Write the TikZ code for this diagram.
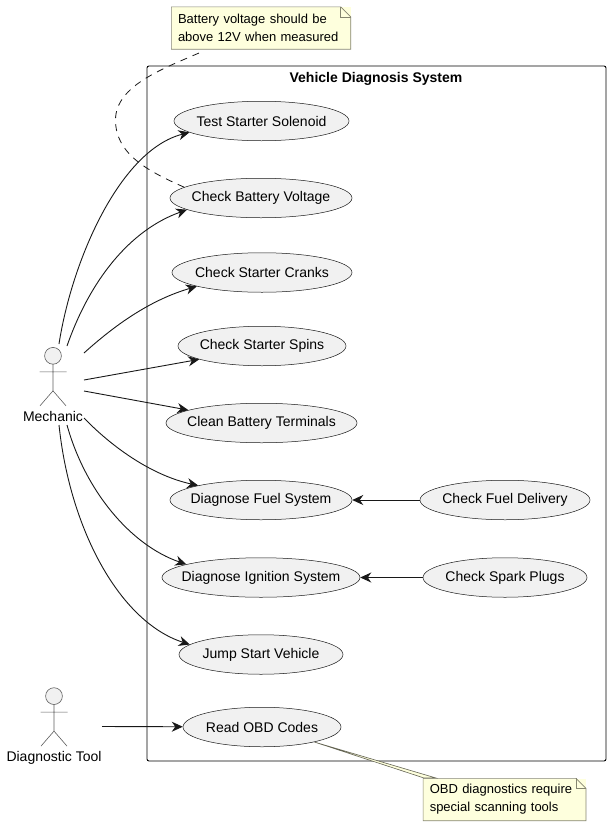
\documentclass[tikz,border=0pt]{standalone}
\usepackage{fontspec}
\setmainfont{Liberation Sans}
\usetikzlibrary{arrows.meta,calc,shapes.geometric}
\definecolor{usefill}{HTML}{F1F1F1}
\definecolor{useline}{HTML}{181818}
\definecolor{notefill}{HTML}{FEFFDD}
\definecolor{noteline}{HTML}{858570}
\newcommand{\casetext}[1]{\makebox[0pt]{\raisebox{-1pt}{#1}}}
\tikzset{
  usecase/.style={ellipse,draw=useline,fill=usefill,line width=0.5pt,minimum height=39.5pt,inner sep=0pt,font=\fontsize{14}{16}\selectfont},
  assoc/.style={-{Stealth[length=11pt,width=10pt,inset=3.5pt]},useline,line width=0.9pt},
  notebox/.style={fill=notefill,inner xsep=6.5pt,inner ysep=0pt,minimum height=42pt,align=left,font=\fontsize{13}{18}\selectfont},
  noteedge/.style={draw=noteline,line width=0.6pt},
  actorlabel/.style={inner sep=0pt,font=\fontsize{14}{16}\selectfont},
  actorfig/.pic={
    \draw[draw=useline!70,fill=usefill,line width=0.6pt] (0,-8.4) circle (8.4);
    \draw[useline!70,line width=0.6pt] (0,0) -- (0,26.6) (-13.5,7.6) -- (13.5,7.6) (-13,41.6) -- (0,26.6) -- (13,41.6);
  }
}
\begin{document}
\begin{tikzpicture}[x=1pt,y=-1pt]
  \useasboundingbox (0,0) rectangle (610,825);
  \node[draw=black,line width=0.9pt,rounded corners=2pt,minimum width=459pt,minimum height=695pt,inner sep=0pt] (system) at (376.5,413.5) {};
  \node[inner sep=0pt,font=\bfseries\fontsize{14}{16}\selectfont] (systemtitle) at (376,79) {Vehicle Diagnosis System};

  \node[usecase,minimum width=175pt] (solenoid) at (261.5,121) {\casetext{Test Starter Solenoid}};
  \node[usecase,minimum width=182pt] (battery) at (261,198) {\casetext{Check Battery Voltage}};
  \node[usecase,minimum width=180pt] (cranks) at (262,272.5) {\casetext{Check Starter Cranks}};
  \node[usecase,minimum width=168pt] (spins) at (262,346) {\casetext{Check Starter Spins}};
  \node[usecase,minimum width=191pt] (terminals) at (261.5,423) {\casetext{Clean Battery Terminals}};
  \node[usecase,minimum width=182pt] (fuel) at (261,500) {\casetext{Diagnose Fuel System}};
  \node[usecase,minimum width=198pt] (ignition) at (261,577.5) {\casetext{Diagnose Ignition System}};
  \node[usecase,minimum width=164pt] (jump) at (261,654.5) {\casetext{Jump Start Vehicle}};
  \node[usecase,minimum width=158pt] (obd) at (262,727) {\casetext{Read OBD Codes}};
  \node[usecase,minimum width=170pt] (delivery) at (505,500) {\casetext{Check Fuel Delivery}};
  \node[usecase,minimum width=164pt] (plugs) at (505,577.5) {\casetext{Check Spark Plugs}};

  \pic at (53,364.2) {actorfig};
  \node[actorlabel] (mechanic) at (53,416.5) {Mechanic};
  \pic at (54,704.5) {actorfig};
  \node[actorlabel] (tool) at (54,758) {Diagnostic Tool};

  \coordinate (mecha) at (59,344);
  \coordinate (mechb) at (67,346);
  \coordinate (mechc) at (84,353);
  \coordinate (mechd) at (84,380);
  \coordinate (meche) at (84,391);
  \coordinate (mechf) at (84,418);
  \coordinate (mechg) at (67,425);
  \coordinate (mechh) at (59,425);
  \coordinate (toolr) at (102,726.5);

  \draw[assoc] (mecha) .. controls (72,260) and (120,150) .. (solenoid.189);
  \draw[assoc] (mechb) .. controls (90,280) and (130,230) .. (battery.189);
  \draw[assoc] (mechc) .. controls (115,325) and (150,300) .. (cranks.192);
  \draw[assoc] (mechd) -- (spins.192);
  \draw[assoc] (meche) -- (terminals.170);
  \draw[assoc] (mechf) .. controls (110,445) and (150,475) .. (fuel.167.3);
  \draw[assoc] (mechg) .. controls (85,490) and (130,545) .. (ignition.170);
  \draw[assoc] (mechh) .. controls (70,530) and (120,622) .. (jump.172.5);
  \draw[assoc] (toolr) -- (obd);
  \draw[assoc] (delivery) -- (fuel);
  \draw[assoc] (plugs) -- (ignition);

  \node[notebox,text width=166pt] (voltnote) at (261,28) {Battery voltage should be\\above 12V when measured};
  \node[notebox,text width=149.5pt] (scannote) at (504.5,799.5) {OBD diagnostics require\\special scanning tools};

  \draw[noteedge] (voltnote.north west) -- ($(voltnote.north east)+(-10,0)$) -- ($(voltnote.north east)+(0,10)$) -- (voltnote.south east) -- (voltnote.south west) -- cycle;
  \draw[noteedge] ($(voltnote.north east)+(-10,0)$) -- ($(voltnote.north east)+(-10,10)$) -- ($(voltnote.north east)+(0,10)$);
  \draw[noteedge] (scannote.north west) -- ($(scannote.north east)+(-10,0)$) -- ($(scannote.north east)+(0,10)$) -- (scannote.south east) -- (scannote.south west) -- cycle;
  \draw[noteedge] ($(scannote.north east)+(-10,0)$) -- ($(scannote.north east)+(-10,10)$) -- ($(scannote.north east)+(0,10)$);

  \coordinate (voltbend) at (115.5,120);
  \coordinate (voltfoot) at ($(voltnote.south)+(-59,2.5)$);
  \draw[useline,line width=0.8pt,dash pattern=on 7pt off 6pt] (battery.172) .. controls (150,172) and (115.5,155) .. (voltbend) .. controls (115.5,85) and (165,68) .. (voltfoot);
  \coordinate (scana) at (424,778);
  \coordinate (scanb) at (436,778);
  \draw[noteedge,draw=noteline!75!black,fill=notefill] (obd.344) -- (scana) -- (scanb) -- cycle;
\end{tikzpicture}
\end{document}
